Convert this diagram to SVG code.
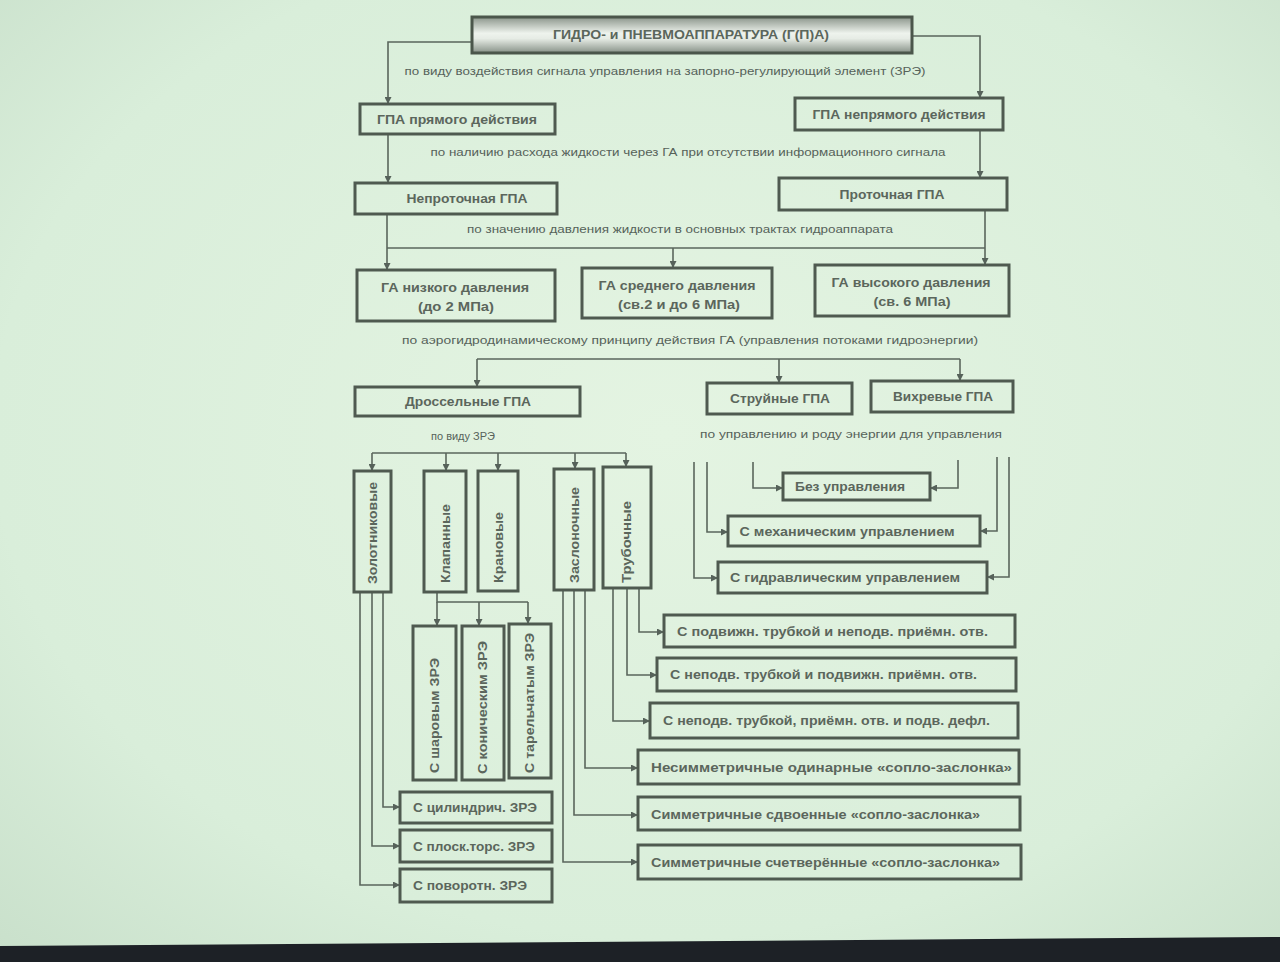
<svg xmlns="http://www.w3.org/2000/svg" width="1280" height="962" viewBox="0 0 1280 962">
  <defs>
    <radialGradient id="slideBg" cx="0.52" cy="0.45" r="0.75">
      <stop offset="0" stop-color="#e4f4e2"/>
      <stop offset="0.7" stop-color="#d9eeda"/>
      <stop offset="1" stop-color="#c9e0cb"/>
    </radialGradient>
    <linearGradient id="rootFill" x1="0" y1="0" x2="0" y2="1">
      <stop offset="0" stop-color="#8a948a"/>
      <stop offset="0.45" stop-color="#eef3ed"/>
      <stop offset="0.6" stop-color="#e6ece5"/>
      <stop offset="1" stop-color="#879187"/>
    </linearGradient>
    <marker id="arr" viewBox="0 0 8 8" refX="8" refY="4" markerWidth="7" markerHeight="7" markerUnits="userSpaceOnUse" orient="auto">
      <path d="M0,0 L8,4 L0,8 z" fill="#56625a"/>
    </marker>
    <style>
      .box { fill: none; stroke: #4f5a50; stroke-width: 3; }
      .wire { fill: none; stroke: #5a665c; stroke-width: 1.6; }
      .wire-a { fill: none; stroke: #5a665c; stroke-width: 1.6; marker-end: url(#arr); }
      .t { font-family: "Liberation Sans", Arial, sans-serif; font-weight: bold; font-size: 12px; fill: #5b665c; }
      .lbl { font-family: "Liberation Sans", Arial, sans-serif; font-size: 10px; fill: #56625a; }
    </style>
  </defs>

  <!-- slide surface -->
  <rect x="0" y="0" width="1280" height="962" fill="url(#slideBg)"/>
  <polygon points="0,946 1280,937 1280,962 0,962" fill="#1d2126"/>

  <!-- connectors -->
  <g id="connectors">
    <path class="wire-a" d="M472,42 H388 V104"/>
    <path class="wire-a" d="M912,36 H980 V98"/>
    <path class="wire-a" d="M388,134 V183"/>
    <path class="wire-a" d="M980,130 V178"/>

    <path class="wire" d="M387,248 H985"/>
    <path class="wire-a" d="M387,214 V270"/>
    <path class="wire-a" d="M673,248 V268"/>
    <path class="wire-a" d="M985,210 V265"/>

    <path class="wire" d="M477,359 H960"/>
    <path class="wire-a" d="M477,359 V387"/>
    <path class="wire-a" d="M779,359 V383"/>
    <path class="wire-a" d="M960,359 V381"/>

    <path class="wire" d="M372,453 H626"/>
    <path class="wire-a" d="M372,453 V471"/>
    <path class="wire-a" d="M446,453 V471"/>
    <path class="wire-a" d="M498,453 V471"/>
    <path class="wire-a" d="M575,453 V469"/>
    <path class="wire-a" d="M626,453 V467"/>

    <path class="wire" d="M437,592 V602 H528"/>
    <path class="wire-a" d="M437,602 V626"/>
    <path class="wire-a" d="M479,602 V626"/>
    <path class="wire-a" d="M528,602 V624"/>

    <path class="wire-a" d="M383,592 V807 H400"/>
    <path class="wire-a" d="M372,592 V846 H400"/>
    <path class="wire-a" d="M360,592 V885 H400"/>

    <path class="wire-a" d="M585,590 V768 H638"/>
    <path class="wire-a" d="M574,590 V815 H638"/>
    <path class="wire-a" d="M563,590 V862 H638"/>

    <path class="wire-a" d="M639,588 V632 H664"/>
    <path class="wire-a" d="M627,588 V675 H657"/>
    <path class="wire-a" d="M613,588 V721 H650"/>

    <path class="wire-a" d="M753,462 V488 H783"/>
    <path class="wire-a" d="M707,462 V532 H728"/>
    <path class="wire-a" d="M694,462 V578 H718"/>
    <path class="wire-a" d="M958,460 V488 H930"/>
    <path class="wire-a" d="M997,457 V531 H980"/>
    <path class="wire-a" d="M1009,457 V577 H987"/>
  </g>

  <!-- branch labels -->
  <g id="labels">
    <text class="lbl" x="665" y="75" text-anchor="middle" textLength="521" lengthAdjust="spacingAndGlyphs">по виду воздействия сигнала управления на запорно-регулирующий элемент (ЗРЭ)</text>
    <text class="lbl" x="688" y="156" text-anchor="middle" textLength="515" lengthAdjust="spacingAndGlyphs">по наличию расхода жидкости через ГА при отсутствии информационного сигнала</text>
    <text class="lbl" x="680" y="233" text-anchor="middle" textLength="426" lengthAdjust="spacingAndGlyphs">по значению давления жидкости в основных трактах гидроаппарата</text>
    <text class="lbl" x="690" y="344" text-anchor="middle" textLength="576" lengthAdjust="spacingAndGlyphs">по аэрогидродинамическому принципу действия ГА (управления потоками гидроэнергии)</text>
    <text class="lbl" x="463" y="440" text-anchor="middle" textLength="64" lengthAdjust="spacingAndGlyphs">по виду ЗРЭ</text>
    <text class="lbl" x="851" y="438" text-anchor="middle" textLength="302" lengthAdjust="spacingAndGlyphs">по управлению и роду энергии для управления</text>
  </g>

  <!-- root -->
  <g id="root">
    <rect x="472" y="17" width="440" height="36" fill="url(#rootFill)" stroke="#4b564b" stroke-width="3"/>
    <text class="t" x="691" y="39" text-anchor="middle" textLength="276" lengthAdjust="spacingAndGlyphs">ГИДРО- и ПНЕВМОАППАРАТУРА (Г(П)А)</text>
  </g>

  <g id="direct">
    <rect class="box" x="360" y="104" width="195" height="30"/>
    <text class="t" x="457" y="124" text-anchor="middle" textLength="160" lengthAdjust="spacingAndGlyphs">ГПА прямого действия</text>
  </g>
  <g id="indirect">
    <rect class="box" x="795" y="98" width="208" height="32"/>
    <text class="t" x="899" y="119" text-anchor="middle" textLength="173" lengthAdjust="spacingAndGlyphs">ГПА непрямого действия</text>
  </g>
  <g id="nonflow">
    <rect class="box" x="355" y="183" width="202" height="31"/>
    <text class="t" x="467" y="203" text-anchor="middle" textLength="121" lengthAdjust="spacingAndGlyphs">Непроточная ГПА</text>
  </g>
  <g id="flow">
    <rect class="box" x="779" y="178" width="228" height="32"/>
    <text class="t" x="892" y="199" text-anchor="middle" textLength="105" lengthAdjust="spacingAndGlyphs">Проточная ГПА</text>
  </g>

  <g id="low-pressure">
    <rect class="box" x="357" y="270" width="198" height="51"/>
    <text class="t" x="455" y="292" text-anchor="middle" textLength="148" lengthAdjust="spacingAndGlyphs">ГА низкого давления</text>
    <text class="t" x="456" y="311" text-anchor="middle" textLength="76" lengthAdjust="spacingAndGlyphs">(до 2 МПа)</text>
  </g>
  <g id="mid-pressure">
    <rect class="box" x="582" y="268" width="190" height="50"/>
    <text class="t" x="677" y="290" text-anchor="middle" textLength="157" lengthAdjust="spacingAndGlyphs">ГА среднего давления</text>
    <text class="t" x="679" y="309" text-anchor="middle" textLength="122" lengthAdjust="spacingAndGlyphs">(св.2 и до 6 МПа)</text>
  </g>
  <g id="high-pressure">
    <rect class="box" x="815" y="265" width="194" height="51"/>
    <text class="t" x="911" y="287" text-anchor="middle" textLength="159" lengthAdjust="spacingAndGlyphs">ГА высокого давления</text>
    <text class="t" x="912" y="306" text-anchor="middle" textLength="77" lengthAdjust="spacingAndGlyphs">(св. 6 МПа)</text>
  </g>

  <g id="throttle">
    <rect class="box" x="355" y="387" width="225" height="29"/>
    <text class="t" x="468" y="406" text-anchor="middle" textLength="126" lengthAdjust="spacingAndGlyphs">Дроссельные ГПА</text>
  </g>
  <g id="jet">
    <rect class="box" x="707" y="383" width="145" height="31"/>
    <text class="t" x="780" y="403" text-anchor="middle" textLength="100" lengthAdjust="spacingAndGlyphs">Струйные ГПА</text>
  </g>
  <g id="vortex">
    <rect class="box" x="871" y="381" width="142" height="31"/>
    <text class="t" x="943" y="401" text-anchor="middle" textLength="100" lengthAdjust="spacingAndGlyphs">Вихревые ГПА</text>
  </g>

  <!-- control-type boxes -->
  <g id="no-control">
    <rect class="box" x="783" y="473" width="147" height="27"/>
    <text class="t" x="850" y="491" text-anchor="middle" textLength="110" lengthAdjust="spacingAndGlyphs">Без управления</text>
  </g>
  <g id="mech-control">
    <rect class="box" x="728" y="516" width="252" height="30"/>
    <text class="t" x="847" y="536" text-anchor="middle" textLength="215" lengthAdjust="spacingAndGlyphs">С механическим управлением</text>
  </g>
  <g id="hydr-control">
    <rect class="box" x="718" y="562" width="269" height="31"/>
    <text class="t" x="845" y="582" text-anchor="middle" textLength="230" lengthAdjust="spacingAndGlyphs">С гидравлическим управлением</text>
  </g>

  <!-- valve-element kinds (vertical) -->
  <g id="spool">
    <rect class="box" x="354" y="471" width="37" height="121"/>
    <text class="t" transform="translate(377,584) rotate(-90)" textLength="102" lengthAdjust="spacingAndGlyphs">Золотниковые</text>
  </g>
  <g id="valve">
    <rect class="box" x="424" y="471" width="42" height="121"/>
    <text class="t" transform="translate(450,583) rotate(-90)" textLength="79" lengthAdjust="spacingAndGlyphs">Клапанные</text>
  </g>
  <g id="cock">
    <rect class="box" x="478" y="471" width="40" height="120"/>
    <text class="t" transform="translate(503,583) rotate(-90)" textLength="71" lengthAdjust="spacingAndGlyphs">Крановые</text>
  </g>
  <g id="flapper">
    <rect class="box" x="554" y="469" width="40" height="121"/>
    <text class="t" transform="translate(579,583) rotate(-90)" textLength="96" lengthAdjust="spacingAndGlyphs">Заслоночные</text>
  </g>
  <g id="tube">
    <rect class="box" x="603" y="467" width="48" height="121"/>
    <text class="t" transform="translate(631,583) rotate(-90)" textLength="82" lengthAdjust="spacingAndGlyphs">Трубочные</text>
  </g>

  <g id="ball">
    <rect class="box" x="413" y="626" width="43" height="154"/>
    <text class="t" transform="translate(439,773) rotate(-90)" textLength="115" lengthAdjust="spacingAndGlyphs">С шаровым ЗРЭ</text>
  </g>
  <g id="conical">
    <rect class="box" x="462" y="626" width="42" height="154"/>
    <text class="t" transform="translate(487,774) rotate(-90)" textLength="133" lengthAdjust="spacingAndGlyphs">С коническим ЗРЭ</text>
  </g>
  <g id="poppet">
    <rect class="box" x="509" y="624" width="42" height="154"/>
    <text class="t" transform="translate(534,773) rotate(-90)" textLength="140" lengthAdjust="spacingAndGlyphs">С тарельчатым ЗРЭ</text>
  </g>

  <g id="cylindrical">
    <rect class="box" x="400" y="792" width="152" height="31"/>
    <text class="t" x="413" y="812" textLength="124" lengthAdjust="spacingAndGlyphs">С цилиндрич. ЗРЭ</text>
  </g>
  <g id="flat-face">
    <rect class="box" x="400" y="830" width="152" height="32"/>
    <text class="t" x="413" y="851" textLength="122" lengthAdjust="spacingAndGlyphs">С плоск.торс. ЗРЭ</text>
  </g>
  <g id="rotary">
    <rect class="box" x="400" y="869" width="152" height="33"/>
    <text class="t" x="413" y="890" textLength="114" lengthAdjust="spacingAndGlyphs">С поворотн. ЗРЭ</text>
  </g>

  <!-- tube and nozzle-flapper variants -->
  <g id="tube-1">
    <rect class="box" x="664" y="615" width="351" height="32"/>
    <text class="t" x="677" y="636" textLength="311" lengthAdjust="spacingAndGlyphs">С подвижн. трубкой и неподв. приёмн. отв.</text>
  </g>
  <g id="tube-2">
    <rect class="box" x="657" y="658" width="359" height="33"/>
    <text class="t" x="670" y="679" textLength="307" lengthAdjust="spacingAndGlyphs">С неподв. трубкой и подвижн. приёмн. отв.</text>
  </g>
  <g id="tube-3">
    <rect class="box" x="650" y="703" width="368" height="35"/>
    <text class="t" x="663" y="725" textLength="327" lengthAdjust="spacingAndGlyphs">С неподв. трубкой, приёмн. отв. и подв. дефл.</text>
  </g>
  <g id="nozzle-1">
    <rect class="box" x="638" y="750" width="381" height="34"/>
    <text class="t" x="651" y="772" textLength="361" lengthAdjust="spacingAndGlyphs">Несимметричные одинарные «сопло-заслонка»</text>
  </g>
  <g id="nozzle-2">
    <rect class="box" x="638" y="797" width="382" height="33"/>
    <text class="t" x="651" y="819" textLength="329" lengthAdjust="spacingAndGlyphs">Симметричные сдвоенные «сопло-заслонка»</text>
  </g>
  <g id="nozzle-4">
    <rect class="box" x="638" y="845" width="383" height="34"/>
    <text class="t" x="651" y="867" textLength="349" lengthAdjust="spacingAndGlyphs">Симметричные счетверённые «сопло-заслонка»</text>
  </g>
</svg>
